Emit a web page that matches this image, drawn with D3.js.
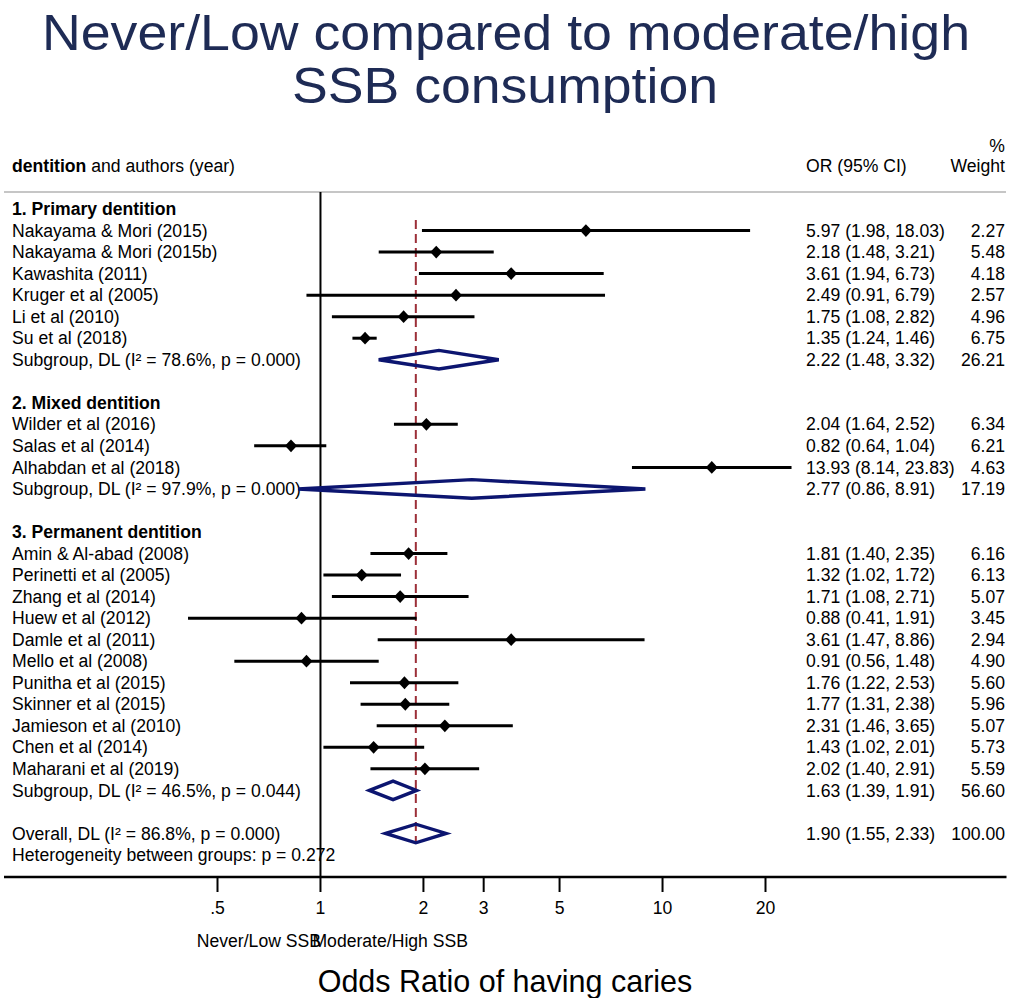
<!DOCTYPE html>
<html>
<head>
<meta charset="utf-8">
<script src="https://cdn.jsdelivr.net/npm/d3@7"></script>
<style>
  html, body { margin: 0; padding: 0; background: #fff; }
  svg { display: block; font-family: "Liberation Sans", Arial, Helvetica, sans-serif; }
</style>
</head>
<body>
<svg id="chart" width="1016" height="998"></svg>
<script>
// Study-level estimates (odds ratio with 95% CI and random-effects weight)
const studies = [
  "Nakayama & Mori (2015)", "Nakayama & Mori (2015b)", "Kawashita (2011)",
  "Kruger et al (2005)", "Li et al (2010)", "Su et al (2018)",
  "Wilder et al (2016)", "Salas et al (2014)", "Alhabdan et al (2018)",
  "Amin & Al-abad (2008)", "Perinetti et al (2005)", "Zhang et al (2014)",
  "Huew et al (2012)", "Damle et al (2011)", "Mello et al (2008)",
  "Punitha et al (2015)", "Skinner et al (2015)", "Jamieson et al (2010)",
  "Chen et al (2014)", "Maharani et al (2019)"
];
const studyGroup  = [0,0,0,0,0,0, 1,1,1, 2,2,2,2,2,2,2,2,2,2,2];
const studyOR     = [5.97, 2.18, 3.61, 2.49, 1.75, 1.35, 2.04, 0.82, 13.93, 1.81, 1.32, 1.71, 0.88, 3.61, 0.91, 1.76, 1.77, 2.31, 1.43, 2.02];
const studyLo     = [1.98, 1.48, 1.94, 0.91, 1.08, 1.24, 1.64, 0.64, 8.14, 1.40, 1.02, 1.08, 0.41, 1.47, 0.56, 1.22, 1.31, 1.46, 1.02, 1.40];
const studyHi     = [18.03, 3.21, 6.73, 6.79, 2.82, 1.46, 2.52, 1.04, 23.83, 2.35, 1.72, 2.71, 1.91, 8.86, 1.48, 2.53, 2.38, 3.65, 2.01, 2.91];
const studyWeight = [2.27, 5.48, 4.18, 2.57, 4.96, 6.75, 6.34, 6.21, 4.63, 6.16, 6.13, 5.07, 3.45, 2.94, 4.90, 5.60, 5.96, 5.07, 5.73, 5.59];

// Subgroup pooled estimates (DerSimonian-Laird)
const groupLabels = ["1. Primary dentition", "2. Mixed dentition", "3. Permanent dentition"];
const groupOR     = [2.22, 2.77, 1.63];
const groupLo     = [1.48, 0.86, 1.39];
const groupHi     = [3.32, 8.91, 1.91];
const groupWeight = [26.21, 17.19, 56.60];
const groupI2     = ["78.6", "97.9", "46.5"];
const groupP      = ["0.000", "0.000", "0.044"];

// Overall pooled estimate
const overallOR = 1.90, overallLo = 1.55, overallHi = 2.33, overallWeight = 100.00;
const overallI2 = "86.8", overallP = "0.000", betweenP = "0.272";

// Axis ticks
const xTicks = [0.5, 1, 2, 3, 5, 10, 20];
const xTickLabels = [".5", "1", "2", "3", "5", "10", "20"];

const svg = d3.select("#chart");
const fmt = d3.format(".2f");
const NAVY = "#0c1570";
const FS = 17.6;

// Log-scaled odds ratio axis
const x = d3.scaleLog().domain([0.5, 20]).range([217.5, 765.5]);

// Build the row list: group heading, studies, subgroup, blank
const rows = [];
groupLabels.forEach((g, gi) => {
  rows.push({ type: "heading", label: g });
  studies.forEach((s, i) => {
    if (studyGroup[i] === gi) {
      rows.push({ type: "study", label: s, or: studyOR[i], lo: studyLo[i], hi: studyHi[i], w: studyWeight[i] });
    }
  });
  rows.push({ type: "subgroup", label: `Subgroup, DL (I\u00B2 = ${groupI2[gi]}%, p = ${groupP[gi]})`,
              or: groupOR[gi], lo: groupLo[gi], hi: groupHi[gi], w: groupWeight[gi] });
  rows.push({ type: "blank" });
});
rows.push({ type: "overall", label: `Overall, DL (I\u00B2 = ${overallI2}%, p = ${overallP})`,
            or: overallOR, lo: overallLo, hi: overallHi, w: overallWeight });
rows.push({ type: "note", label: `Heterogeneity between groups: p = ${betweenP}` });
rows.forEach((r, i) => r.i = i);

const y = d3.scaleLinear().domain([0, rows.length - 1]).range([209, 855]);

// Title (two lines, slightly wide lettering)
svg.append("text").attr("x", 506).attr("y", 50)
  .attr("text-anchor", "middle").attr("fill", "#1e2b55").attr("font-size", 50.5)
  .attr("textLength", 928).attr("lengthAdjust", "spacingAndGlyphs")
  .text("Never/Low compared to moderate/high");
svg.append("text").attr("x", 505).attr("y", 103)
  .attr("text-anchor", "middle").attr("fill", "#1e2b55").attr("font-size", 50.5)
  .attr("textLength", 426).attr("lengthAdjust", "spacingAndGlyphs")
  .text("SSB consumption");

// Column headers
const head = svg.append("text").attr("x", 12).attr("y", 172).attr("font-size", FS).attr("fill", "#000");
head.append("tspan").attr("font-weight", "bold").text("dentition");
head.append("tspan").text(" and authors (year)");
svg.append("text").attr("x", 806).attr("y", 172).attr("font-size", FS).text("OR (95% CI)");
svg.append("text").attr("x", 1005).attr("y", 152).attr("font-size", FS).attr("text-anchor", "end").text("%");
svg.append("text").attr("x", 1005).attr("y", 172).attr("font-size", FS).attr("text-anchor", "end").text("Weight");

// Header rule
svg.append("line").attr("x1", 4).attr("x2", 1006).attr("y1", 192).attr("y2", 192)
  .attr("stroke", "#c6c6c6").attr("stroke-width", 2);

// Axis baseline
const axisY = 877;
svg.append("line").attr("x1", 4).attr("x2", 1006.5).attr("y1", axisY).attr("y2", axisY)
  .attr("stroke", "#000").attr("stroke-width", 2.5);

// No-effect line at OR = 1
svg.append("line").attr("x1", x(1)).attr("x2", x(1)).attr("y1", 192).attr("y2", axisY)
  .attr("stroke", "#000").attr("stroke-width", 2);

// Overall effect reference line
svg.append("line").attr("x1", x(overallOR)).attr("x2", x(overallOR)).attr("y1", 220).attr("y2", 843)
  .attr("stroke", "#9c2f38").attr("stroke-width", 2).attr("stroke-dasharray", "9,5");

// Row text
const labelG = svg.append("g").attr("font-size", FS);
labelG.selectAll("text.lab").data(rows.filter(r => r.label)).join("text")
  .attr("class", "lab")
  .attr("x", 12).attr("y", r => y(r.i)).attr("dy", "0.35em")
  .attr("font-weight", r => r.type === "heading" ? "bold" : null)
  .text(r => r.label);

const valRows = rows.filter(r => r.or !== undefined);
labelG.selectAll("text.ci").data(valRows).join("text")
  .attr("class", "ci")
  .attr("x", 806).attr("y", r => y(r.i)).attr("dy", "0.35em")
  .text(r => `${fmt(r.or)} (${fmt(r.lo)}, ${fmt(r.hi)})`);
labelG.selectAll("text.wt").data(valRows).join("text")
  .attr("class", "wt")
  .attr("x", 1005).attr("y", r => y(r.i)).attr("dy", "0.35em")
  .attr("text-anchor", "end")
  .text(r => fmt(r.w));

// Study CIs and point markers
const studyRows = rows.filter(r => r.type === "study");
svg.append("g").selectAll("line").data(studyRows).join("line")
  .attr("x1", r => x(r.lo)).attr("x2", r => x(r.hi))
  .attr("y1", r => y(r.i)).attr("y2", r => y(r.i))
  .attr("stroke", "#000").attr("stroke-width", 3);
svg.append("g").selectAll("path").data(studyRows).join("path")
  .attr("d", r => {
    const cx = x(r.or), cy = y(r.i), hw = 6, hh = 6.4;
    return `M${cx - hw},${cy}L${cx},${cy - hh}L${cx + hw},${cy}L${cx},${cy + hh}Z`;
  })
  .attr("fill", "#000");

// Pooled diamonds
const pooledRows = rows.filter(r => r.type === "subgroup" || r.type === "overall");
svg.append("g").selectAll("path").data(pooledRows).join("path")
  .attr("d", r => {
    const cy = y(r.i), hh = 9.3;
    return `M${x(r.lo)},${cy}L${x(r.or)},${cy - hh}L${x(r.hi)},${cy}L${x(r.or)},${cy + hh}Z`;
  })
  .attr("fill", "none").attr("stroke", NAVY).attr("stroke-width", 3.4)
  .attr("stroke-linejoin", "miter");

// X axis ticks and labels
const tickG = svg.append("g").attr("font-size", FS);
tickG.selectAll("line").data(xTicks).join("line")
  .attr("x1", d => x(d)).attr("x2", d => x(d))
  .attr("y1", axisY).attr("y2", axisY + 15)
  .attr("stroke", "#000").attr("stroke-width", 2);
tickG.selectAll("text").data(xTicks).join("text")
  .attr("x", d => x(d)).attr("y", 914)
  .attr("text-anchor", "middle")
  .text((d, i) => xTickLabels[i]);

// Direction labels
svg.append("text").attr("x", x(1) + 0.5).attr("y", 947).attr("font-size", FS)
  .attr("text-anchor", "end").text("Never/Low SSB");
svg.append("text").attr("x", x(1) - 8).attr("y", 947).attr("font-size", FS)
  .text("Moderate/High SSB");

// Axis title
svg.append("text").attr("x", 505).attr("y", 992).attr("font-size", 30.5)
  .attr("text-anchor", "middle").text("Odds Ratio of having caries");
</script>
</body>
</html>
